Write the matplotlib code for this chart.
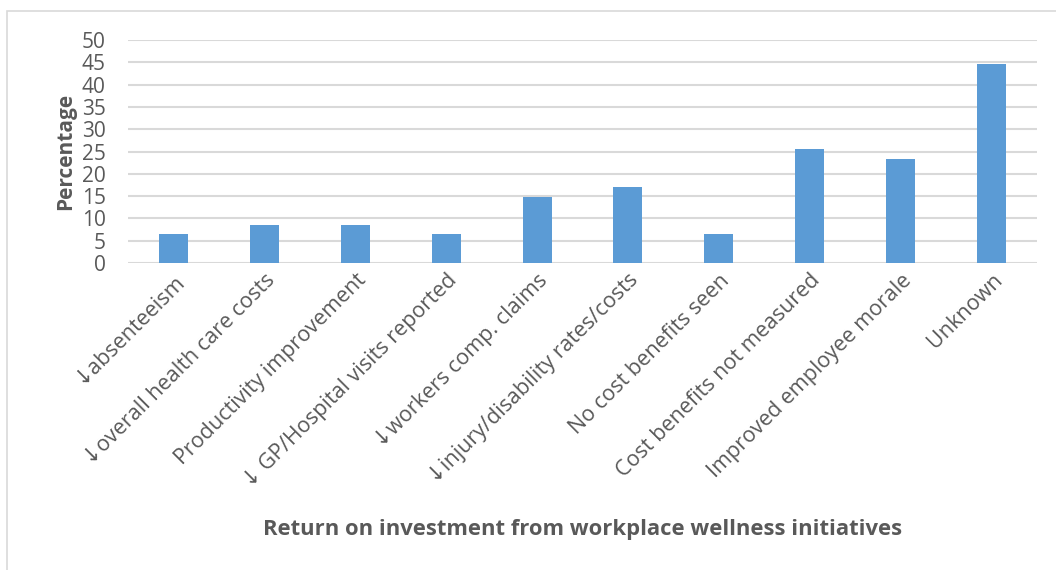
import matplotlib.pyplot as plt
from matplotlib.patches import Rectangle

categories = [
    "\u2193absenteeism",
    "\u2193overall health care costs",
    "Productivity improvement",
    "\u2193 GP/Hospital visits reported",
    "\u2193workers comp. claims",
    "\u2193injury/disability rates/costs",
    "No cost benefits seen",
    "Cost benefits not measured",
    "Improved employee morale",
    "Unknown",
]
percentages = [6.4, 8.5, 8.5, 6.4, 14.9, 17.0, 6.4, 25.5, 23.4, 44.7]
yticks = [0, 5, 10, 15, 20, 25, 30, 35, 40, 45, 50]

grey = "#595959"
plt.rcParams["font.family"] = ["Open Sans", "DejaVu Sans"]

fig = plt.figure(figsize=(10.56, 5.70), dpi=100)
ax = fig.add_axes([128 / 1056, 1 - 263 / 570, (1037 - 128) / 1056, (263 - 40) / 570])

# outer chart frame
fig.patches.append(Rectangle((7 / 1056, -0.1), 1.2, 1 - 11 / 570 + 0.1,
                             transform=fig.transFigure, fill=False,
                             edgecolor="#d9d9d9", linewidth=1.2))

x = range(len(categories))
ax.bar(x, percentages, width=0.32, color="#5b9bd5", zorder=3)

ax.set_xlim(-0.5, len(categories) - 0.5)
ax.set_ylim(0, 50)
ax.set_yticks(yticks)
ax.yaxis.grid(True, color="#d9d9d9", linewidth=1.5, zorder=0)
ax.set_axisbelow(True)
for s in ax.spines.values():
    s.set_visible(False)
ax.tick_params(axis="both", length=0, colors=grey, labelsize=15)
ax.tick_params(axis="y", pad=16)
ax.set_xticks(list(x))
ax.set_xticklabels(categories, rotation=45, ha="right", va="top",
                   rotation_mode="anchor", fontsize=15.5, color=grey)
ax.tick_params(axis="x", pad=5)

ax.set_ylabel("Percentage", fontsize=15, fontweight="bold", color=grey, labelpad=4)
fig.text(583 / 1056, 1 - 530 / 570, "Return on investment from workplace wellness initiatives",
         ha="center", va="center", fontsize=15.8, fontweight="bold", color=grey)

fig.savefig("out.png", dpi=100)
